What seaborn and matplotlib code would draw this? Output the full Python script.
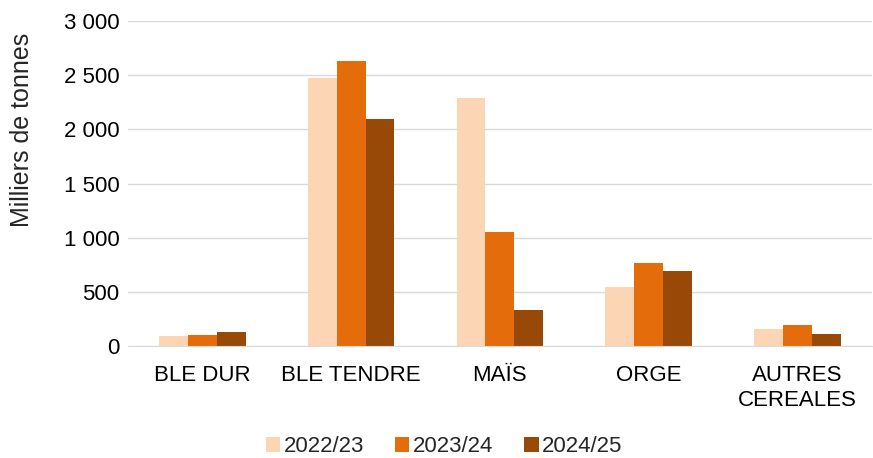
import matplotlib
matplotlib.use("Agg")
import matplotlib.pyplot as plt
import pandas as pd
import seaborn as sns
from matplotlib.ticker import FuncFormatter

categories = ["BLE DUR", "BLE TENDRE", "MAÏS", "ORGE", "AUTRES\nCEREALES"]
seasons = ["2022/23", "2023/24", "2024/25"]
v_2022 = [92, 2474, 2289, 545, 157]
v_2023 = [105, 2630, 1052, 766, 194]
v_2024 = [130, 2095, 332, 692, 111]
colors = ["#FCD5B5", "#E46C0A", "#984807"]

rows = []
for season, vals in zip(seasons, [v_2022, v_2023, v_2024]):
    for cat, v in zip(categories, vals):
        rows.append({"cat": cat, "season": season, "value": v})
df = pd.DataFrame(rows)

sns.set_style("white")
plt.rcParams["font.family"] = ["Liberation Sans", "DejaVu Sans"]

fs = 16

fig = plt.figure(figsize=(8.73, 4.58), dpi=100)
ax = fig.add_axes([0.1466, 0.2445, 0.852, 0.7095])

sns.barplot(
    data=df,
    x="cat",
    y="value",
    hue="season",
    palette=colors,
    order=categories,
    hue_order=seasons,
    width=0.58,
    saturation=1,
    linewidth=0,
    edgecolor="none",
    ax=ax,
)

ax.set_ylim(0, 3000)
ax.set_yticks(range(0, 3001, 500))
ax.yaxis.set_major_formatter(
    FuncFormatter(lambda v, _: f"{int(v):,}".replace(",", " "))
)
ax.grid(axis="y", color="#D9D9D9", linewidth=1)
ax.set_axisbelow(True)
for s in ["top", "right", "left"]:
    ax.spines[s].set_visible(False)
ax.spines["bottom"].set_color("#D9D9D9")
ax.tick_params(axis="both", length=0, labelsize=fs, colors="black")
ax.tick_params(axis="x", pad=14)
ax.tick_params(axis="y", pad=6)
ax.set_xlabel("")
ax.set_ylabel("")

# axis title sits higher than the axes centre, as in the original
fig.text(0.025, 0.716, "Milliers de tonnes", rotation=90,
         ha="center", va="center", fontsize=18)

handles, labels = ax.get_legend_handles_labels()
ax.legend(
    handles,
    labels,
    loc="center",
    bbox_to_anchor=(0.425, -0.31),
    ncol=3,
    frameon=False,
    fontsize=fs,
    handlelength=0.65,
    handleheight=0.65,
    handletextpad=0.15,
    columnspacing=1.4,
)

plt.savefig("out.png", dpi=100)
plt.close()
